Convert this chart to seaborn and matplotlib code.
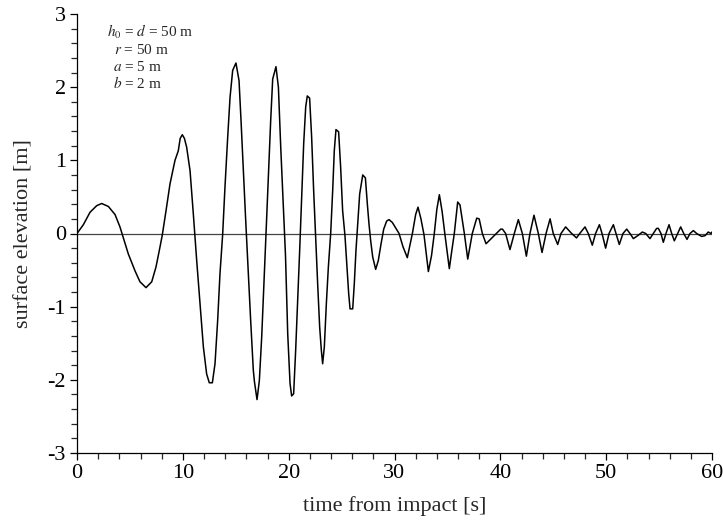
import matplotlib
matplotlib.use("Agg")
import matplotlib.pyplot as plt
import numpy as np
import pandas as pd
import seaborn as sns
from matplotlib.ticker import MultipleLocator

### Values ###
t_s = [0.0, 0.6, 1.23, 1.86, 2.33, 2.96, 3.59, 4.06, 4.38, 4.85, 5.48, 5.95, 6.52, 7.06, 7.46, 7.78,
       8.06, 8.41, 8.79, 9.26, 9.57, 9.75, 9.95, 10.15, 10.36, 10.68, 10.99, 11.31, 11.62, 11.94, 12.25,
       12.5, 12.79, 13.04, 13.29, 13.51, 13.76, 13.98, 14.24, 14.46, 14.71, 15.02, 15.31, 15.5, 15.72,
       15.94, 16.19, 16.41, 16.66, 16.77, 17.01, 17.23, 17.45, 17.67, 17.86, 18.08, 18.3, 18.49, 18.8,
       19.03, 19.25, 19.5, 19.7, 19.91, 20.13, 20.28, 20.47, 20.66, 20.85, 21.04, 21.23, 21.42, 21.61,
       21.76, 21.98, 22.17, 22.36, 22.55, 22.74, 22.93, 23.09, 23.21, 23.37, 23.56, 23.75, 23.97, 24.16,
       24.31, 24.47, 24.72, 24.91, 25.1, 25.32, 25.51, 25.67, 25.8, 26.05, 26.2, 26.36, 26.52, 26.71,
       27.0, 27.25, 27.43, 27.59, 27.75, 27.94, 28.22, 28.47, 28.73, 28.98, 29.26, 29.48, 29.8, 30.05,
       30.43, 30.8, 31.21, 31.69, 32.0, 32.22, 32.5, 32.79, 33.2, 33.5, 33.76, 34.0, 34.24, 34.5,
       34.77, 35.18, 35.4, 35.65, 35.97, 36.19, 36.6, 36.92, 37.35, 37.77, 38.0, 38.3, 38.65, 39.34,
       40.04, 40.2, 40.5, 40.91, 41.32, 41.7, 42.08, 42.46, 42.8, 43.18, 43.59, 43.94, 44.32, 44.7,
       45.0, 45.42, 45.73, 46.17, 46.74, 47.2, 47.5, 48.0, 48.31, 48.69, 49.0, 49.36, 49.61, 49.95,
       50.27, 50.68, 50.93, 51.24, 51.59, 51.94, 52.3, 52.57, 52.98, 53.42, 53.74, 54.14, 54.46, 54.77,
       54.93, 55.18, 55.4, 55.65, 55.94, 56.19, 56.44, 56.76, 57.04, 57.33, 57.64, 57.92, 58.24, 58.55,
       59.02, 59.34, 59.65, 59.9, 60.0]
eta_m = [0.0, 0.12, 0.29, 0.38, 0.41, 0.37, 0.26, 0.09, -0.06, -0.28, -0.51, -0.66, -0.74, -0.66, -0.46, -0.23,
         -0.02, 0.31, 0.68, 1.0, 1.13, 1.3, 1.35, 1.3, 1.18, 0.86, 0.27, -0.37, -0.96, -1.55, -1.92,
         -2.04, -2.04, -1.78, -1.19, -0.55, -0.02, 0.63, 1.32, 1.86, 2.23, 2.33, 2.09, 1.54, 0.86,
         0.18, -0.55, -1.19, -1.87, -2.03, -2.27, -2.01, -1.42, -0.64, 0.0, 0.77, 1.54, 2.11, 2.28,
         2.0, 1.18, 0.36, -0.3, -1.37, -2.05, -2.22, -2.19, -1.6, -0.92, -0.23, 0.5, 1.23, 1.73,
         1.88, 1.85, 1.32, 0.59, -0.05, -0.69, -1.28, -1.6, -1.78, -1.55, -0.96, -0.46, 0.0, 0.59,
         1.13, 1.42, 1.39, 0.91, 0.31, -0.03, -0.46, -0.82, -1.03, -1.03, -0.69, -0.23, 0.13, 0.54,
         0.8, 0.76, 0.41, 0.13, -0.1, -0.32, -0.49, -0.37, -0.14, 0.06, 0.17, 0.19, 0.15, 0.09,
         0.0, -0.18, -0.33, 0.0, 0.26, 0.36, 0.2, -0.02, -0.52, -0.3, 0.0, 0.33, 0.53, 0.3,
         -0.02, -0.48, -0.25, 0.0, 0.43, 0.39, 0.0, -0.35, 0.0, 0.21, 0.2, 0.0, -0.14, -0.04,
         0.06, 0.06, 0.0, -0.22, 0.0, 0.19, 0.0, -0.31, 0.0, 0.25, 0.0, -0.26, 0.0, 0.2,
         0.0, -0.15, 0.0, 0.09, 0.0, -0.06, 0.0, 0.09, 0.0, -0.16, 0.0, 0.12, 0.0, -0.2,
         0.0, 0.12, 0.0, -0.15, 0.0, 0.06, -0.01, -0.07, -0.03, 0.02, 0.0, -0.07, 0.0, 0.07,
         0.07, 0.0, -0.12, 0.0, 0.12, 0.0, -0.1, 0.0, 0.09, 0.0, -0.08, 0.0, 0.04, 0.0,
         -0.04, -0.03, 0.02, 0.0, 0.02]

params = ["$h_0$ = $d$ = 50 m", "$r$ = 50 m", "$a$ = 5 m", "$b$ = 2 m"]

df = pd.DataFrame({"time": t_s, "eta": eta_m})

sns.set_style("ticks")
plt.rcParams["font.family"] = ["Liberation Serif", "DejaVu Serif"]
plt.rcParams["mathtext.fontset"] = "stix"
plt.rcParams["axes.unicode_minus"] = False  # reference uses plain hyphens

fig = plt.figure(figsize=(7.23, 5.26), dpi=100)
ax = fig.add_axes([77 / 723, 1 - 453 / 526, 635 / 723, 439 / 526])

ax.axhline(0, color="#444444", lw=0.9, zorder=1)
sns.lineplot(data=df, x="time", y="eta", ax=ax, color="black", lw=1.1, estimator=None, sort=False, zorder=2)

ax.set_xlim(0, 60)
ax.set_ylim(-3, 3)
ax.xaxis.set_major_locator(MultipleLocator(10))
ax.xaxis.set_minor_locator(MultipleLocator(2))
ax.yaxis.set_major_locator(MultipleLocator(1))
ax.yaxis.set_minor_locator(MultipleLocator(0.2))
ax.tick_params(which="major", direction="out", length=5, width=0.9, labelsize=16, colors="black", pad=3)
ax.tick_params(which="minor", direction="out", length=4, width=0.9)
for s in ["top", "right"]:
    ax.spines[s].set_visible(False)
for s in ["left", "bottom"]:
    ax.spines[s].set_linewidth(0.9)
    ax.spines[s].set_color("black")

ax.set_xlabel("time from impact [s]", fontsize=16, labelpad=9)
ax.set_ylabel("surface elevation [m]", fontsize=16, labelpad=10)

# parameter box in the upper left corner
text_x = [0.047, 0.058, 0.057, 0.057]
text_y = [0.959, 0.918, 0.879, 0.843]
for lab, tx, ty in zip(params, text_x, text_y):
    ax.text(tx, ty, lab, transform=ax.transAxes, fontsize=11, ha="left", va="center")

fig.savefig("out.png", dpi=100)
